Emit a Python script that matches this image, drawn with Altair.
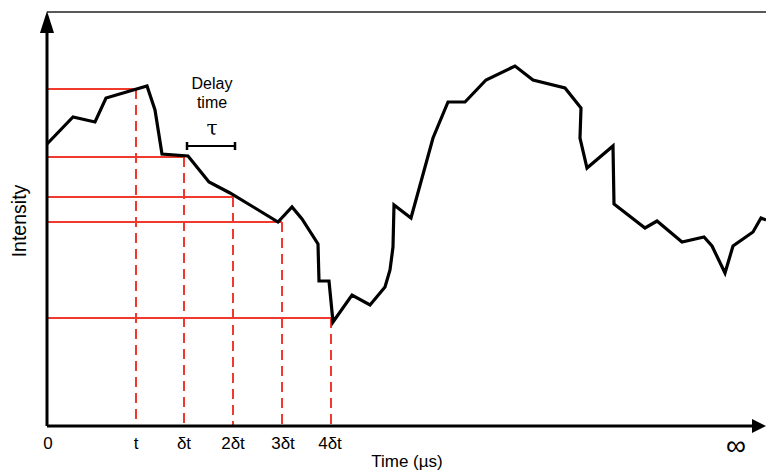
import altair as alt
import pandas as pd

# Signal trace (time in arbitrary units, intensity in arbitrary units)
sig_time = [0, 26, 48, 59, 100, 108, 115, 141, 162, 183, 208, 231, 245, 255, 271, 272, 282, 286,
            305, 323, 338, 343, 346, 347, 364, 386, 401, 418, 439, 468, 486, 518, 534, 533, 540,
            566, 567, 598, 610, 635, 657, 665, 678, 686, 706, 714, 719]
sig_int = [282, 309, 304, 328, 340, 316, 272, 270, 244, 233, 218, 204, 219, 207, 182, 145, 145, 104,
           131, 121, 139, 156, 179, 221, 208, 288, 324, 324, 346, 360, 346, 338, 318, 288, 258,
           280, 222, 198, 205, 184, 189, 180, 153, 180, 194, 208, 206]

# Sampling markers
mark_time = [89, 137, 186, 235, 284]
mark_int = [337, 269, 229, 204, 108]

# Tick labels
tick_time = [1, 89, 137, 186, 236, 283]
tick_text = ["0", "t", "δt", "2δt", "3δt", "4δt"]

XD = [-47, 719]
YD = [-46, 426]
FONT = "Liberation Sans"
RED = "#f03a2e"


def X(field="t"):
    return alt.X(f"{field}:Q", scale=alt.Scale(domain=XD, nice=False, zero=False), axis=None)


def Y(field="i"):
    return alt.Y(f"{field}:Q", scale=alt.Scale(domain=YD, nice=False, zero=False), axis=None)


sig = pd.DataFrame({"t": sig_time, "i": sig_int, "o": range(len(sig_time))})
mk = pd.DataFrame({"t": mark_time, "i": mark_int, "t0": [0] * 5, "i0": [0] * 5})
ticks = pd.DataFrame({"t": tick_time, "label": tick_text, "i": [-18] * len(tick_time)})

hlines = alt.Chart(mk).mark_rule(color=RED, strokeWidth=2).encode(
    x=X("t0"), x2="t", y=Y("i"))
vlines = alt.Chart(mk).mark_rule(color=RED, strokeWidth=2, strokeDash=[10, 6]).encode(
    x=X("t"), y=Y("i"), y2="i0")

line = alt.Chart(sig).mark_line(color="black", strokeWidth=3.2, strokeJoin="miter").encode(
    x=X(), y=Y(), order="o:Q")

axes_df = pd.DataFrame({"t": [0, 0, 0], "t2": [0, 706, 719], "i": [0, 0, 414], "i2": [394, 0, 414]})
axis_y = alt.Chart(axes_df.iloc[[0]]).mark_rule(color="black", strokeWidth=3).encode(
    x=X(), y=Y(), y2="i2")
axis_x = alt.Chart(axes_df.iloc[[1]]).mark_rule(color="black", strokeWidth=3).encode(
    x=X(), x2="t2", y=Y())
top = alt.Chart(axes_df.iloc[[2]]).mark_rule(color="#222222", strokeWidth=1.5).encode(
    x=X(), x2="t2", y=Y())

up = alt.Chart(pd.DataFrame({"t": [0], "i": [404]})).mark_point(
    shape="M0,-1L0.64,1L-0.64,1Z", size=484, filled=True, color="black", opacity=1).encode(x=X(), y=Y())
right = alt.Chart(pd.DataFrame({"t": [712], "i": [0]})).mark_point(
    shape="M1,0L-1,-1L-1,1Z", size=196, filled=True, color="black", opacity=1).encode(x=X(), y=Y())

tick_lbl = alt.Chart(ticks).mark_text(font=FONT, fontSize=17, baseline="middle", color="black").encode(
    x=X(), y=Y(), text="label:N")

texts = pd.DataFrame({
    "t": [360, 689, -27, 165],
    "i": [-36, -21, 205, 350],
    "label": ["Time (µs)", "∞", "Intensity", "Delay\ntime"],
})
xtitle = alt.Chart(texts.iloc[[0]]).mark_text(font=FONT, fontSize=17, color="black").encode(
    x=X(), y=Y(), text="label:N")
inf = alt.Chart(texts.iloc[[1]]).mark_text(font=FONT, fontSize=28, color="black").encode(
    x=X(), y=Y(), text="label:N")
ytitle = alt.Chart(texts.iloc[[2]]).mark_text(font=FONT, fontSize=19.5, angle=270, color="black").encode(
    x=X(), y=Y(), text="label:N")
delay = alt.Chart(texts.iloc[[3]]).mark_text(
    font=FONT, fontSize=16, lineBreak="\n", lineHeight=19, baseline="top", color="black").encode(
    x=X(), y=Y(), text="label:N")
tau = alt.Chart(pd.DataFrame({"t": [165], "i": [291], "label": ["τ"]})).mark_text(
    font="DejaVu Serif", fontSize=20, baseline="alphabetic", color="black").encode(
    x=X(), y=Y(), text="label:N")

bar_df = pd.DataFrame({"t": [140], "t2": [188], "i": [280]})
bar = alt.Chart(bar_df).mark_rule(color="black", strokeWidth=2).encode(x=X(), x2="t2", y=Y())
caps = alt.Chart(pd.DataFrame({"t": [140, 188], "i": [276, 276], "i2": [284, 284]})).mark_rule(
    color="black", strokeWidth=2.5).encode(x=X(), y=Y(), y2="i2")

chart = alt.layer(
    hlines, vlines, top, axis_y, axis_x, line, up, right, tick_lbl, xtitle, inf, ytitle, delay, tau, bar, caps
).properties(
    width=766, height=472, padding=0, autosize=alt.AutoSizeParams(type="none")
).configure_view(stroke=None)

chart.save("out.html", embed_options={"renderer": "svg", "actions": False})
